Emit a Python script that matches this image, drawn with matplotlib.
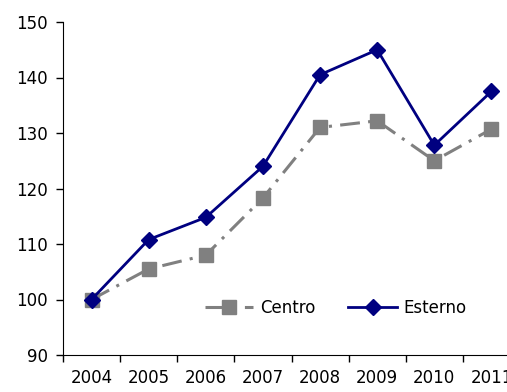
import numpy as np
import matplotlib
matplotlib.use('Agg')
import matplotlib.pyplot as plt

years = ['2004', '2005', '2006', '2007', '2008', '2009', '2010', '2011']
centro = [100, 105.5, 108, 118.3, 131, 132.2, 125, 130.7]
esterno = [100, 110.8, 114.8, 124, 140.5, 145, 127.8, 137.5]

plt.rcParams['font.family'] = 'DejaVu Sans'
plt.rcParams['font.size'] = 12

fig = plt.figure(figsize=(5.07, 3.92), dpi=100)
ax = fig.add_axes([63/507, 37/392, 457/507, 333/392])

x = np.arange(len(years))
ax.plot(x, centro, color='#808080', linestyle=(0, (6.5, 2.7, 1, 2.7)), linewidth=2.2,
        marker='s', markersize=10, label='Centro')
ax.plot(x, esterno, color='#000080', linestyle='-', linewidth=2,
        marker='D', markersize=8, label='Esterno')

ax.set_ylim(90, 150)
ax.set_yticks(np.arange(90, 151, 10))
ax.set_xlim(-0.5, len(years) - 0.5)

# boundaries get the tick marks, centres get the labels
ax.set_xticks(np.arange(-0.5, len(years), 1))
ax.set_xticklabels([])
ax.set_xticks(x, minor=True)
ax.set_xticklabels(years, minor=True)
ax.tick_params(axis='x', which='minor', length=0, pad=10)
ax.tick_params(axis='x', which='major', length=5, width=1, direction='out')
ax.tick_params(axis='y', length=5, width=1, direction='out', pad=6)

ax.spines['top'].set_visible(False)
ax.spines['right'].set_visible(False)

ax.legend(loc='center left', bbox_to_anchor=(0.31, 0.141), ncol=2, frameon=False,
          borderaxespad=0, borderpad=0, handlelength=2.9, columnspacing=2.0,
          handletextpad=0.4, fontsize=12)

fig.savefig('out.png', dpi=100)
